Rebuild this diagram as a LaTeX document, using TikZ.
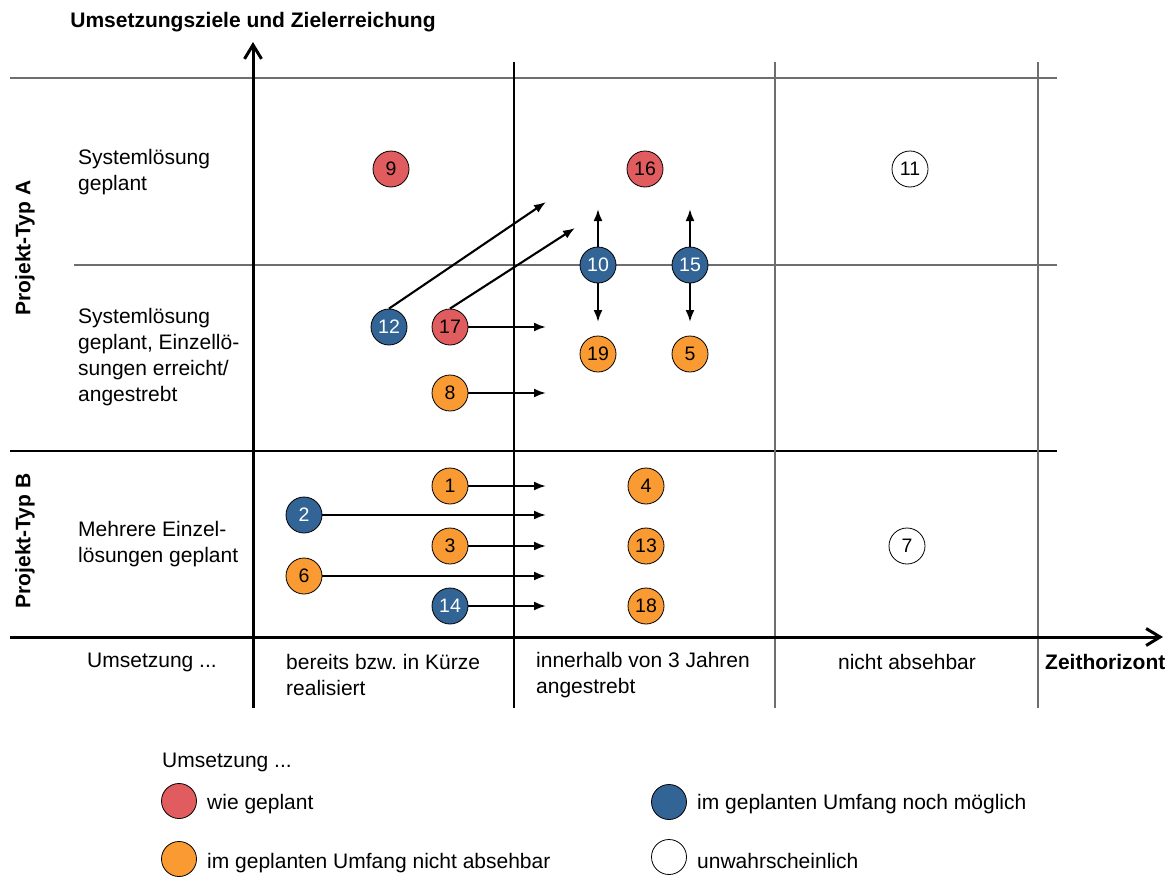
\documentclass[tikz,border=0pt]{standalone}
\usepackage{fontspec}
\setmainfont{Liberation Sans}
\usetikzlibrary{arrows.meta}
\definecolor{cred}{RGB}{224,92,94}
\definecolor{cblue}{RGB}{51,100,150}
\definecolor{corange}{RGB}{250,154,50}
\definecolor{cgrid}{RGB}{110,110,110}
\frenchspacing
\begin{document}
\begin{tikzpicture}[x=1pt,y=-1pt,
  font=\fontsize{21}{26}\selectfont,
  dot/.style={circle, draw=black, line width=0.8pt, minimum size=36pt, inner sep=0pt, font=\fontsize{19.5}{19.5}\selectfont},
  rdot/.style={dot, fill=cred},
  bdot/.style={dot, fill=cblue, text=white},
  odot/.style={dot, fill=corange},
  wdot/.style={dot, fill=white},
  ldot/.style={circle, draw=black, line width=0.8pt, minimum size=35pt, inner sep=0pt},
  conn/.style={line width=2.1pt, -{Latex[length=12pt,width=9pt]}},
  axisline/.style={line width=3pt, -{Straight Barb[length=14pt,width=17pt]}},
  gridline/.style={line width=1.2pt, draw=cgrid},
  gridblack/.style={line width=1.2pt, draw=black},
  lbl/.style={anchor=west, align=left, inner sep=0pt},
  bold/.style={font=\fontsize{21}{26}\selectfont\bfseries}
]
\useasboundingbox (0,0) rectangle (1176,878);

% grid lines
\coordinate (h1a) at (10,78);   \coordinate (h1b) at (1057,78);
\coordinate (h2a) at (74,265);  \coordinate (h2b) at (1057,265);
\coordinate (h3a) at (10,451);  \coordinate (h3b) at (1057,451);
\coordinate (v1a) at (514,62);  \coordinate (v1b) at (514,708);
\coordinate (v2a) at (775,62);  \coordinate (v2b) at (775,708);
\coordinate (v3a) at (1038,62); \coordinate (v3b) at (1038,708);
\draw[gridline] (h1a) -- (h1b);
\draw[gridline] (h2a) -- (h2b);
\draw[gridblack] (h3a) -- (h3b);
\draw[gridblack] (v1a) -- (v1b);
\draw[gridline] (v2a) -- (v2b);
\draw[gridline] (v3a) -- (v3b);

% axes
\coordinate (ya) at (253,708); \coordinate (yb) at (253,42);
\coordinate (xa) at (10,637);  \coordinate (xb) at (1163,637);
\draw[axisline] (ya) -- (yb);
\draw[axisline] (xa) -- (xb);

% axis titles
\node[bold] (ytitle) at (253,22) {Umsetzungsziele und Zielerreichung};
\node[bold, anchor=west, inner sep=0pt] (xtitle) at (1045,662) {Zeithorizont};
\node[bold, rotate=90] (typA) at (25,248) {Projekt-Typ A};
\node[bold, rotate=90] (typB) at (25,541) {Projekt-Typ B};

% row labels
\node[lbl] (r1) at (78,172) {Systemlösung\\geplant};
\node[lbl] (r2) at (78,357) {Systemlösung\\geplant, Einzellö-\\sungen erreicht/\\angestrebt};
\node[lbl] (r3) at (78,544) {Mehrere Einzel-\\lösungen geplant};

% column labels
\node[lbl] (k0) at (87,662) {Umsetzung ...};
\node[lbl] (k1) at (286,675) {bereits bzw. in Kürze\\realisiert};
\node[lbl] (k2) at (536,675) {innerhalb von 3 Jahren\\angestrebt};
\node (k3) at (907,662) {nicht absehbar};

% circles
\node[rdot] (c9)  at (391,169) {9};
\node[rdot] (c16) at (645,169) {16};
\node[wdot] (c11) at (910,169) {11};
\node[bdot] (c10) at (598,265) {10};
\node[bdot] (c15) at (690,265) {15};
\node[bdot] (c12) at (389,327) {12};
\node[rdot] (c17) at (450,327) {17};
\node[odot] (c19) at (598,354) {19};
\node[odot] (c5)  at (690,354) {5};
\node[odot] (c8)  at (450,393) {8};
\node[odot] (c1)  at (450,486) {1};
\node[odot] (c4)  at (646,486) {4};
\node[bdot] (c2)  at (304,515) {2};
\node[odot] (c3)  at (450,546) {3};
\node[odot] (c13) at (646,546) {13};
\node[odot] (c6)  at (304,576) {6};
\node[bdot] (c14) at (450,606) {14};
\node[odot] (c18) at (646,606) {18};
\node[wdot] (c7)  at (907,546) {7};

% arrow targets
\coordinate (t12) at (546,202);
\coordinate (t17d) at (575,228);
\coordinate (t17) at (546,327);
\coordinate (t8) at (546,393);
\coordinate (t10u) at (598,209);
\coordinate (t10d) at (598,322);
\coordinate (t15u) at (690,209);
\coordinate (t15d) at (690,322);
\coordinate (t1) at (546,486);
\coordinate (t2) at (546,515);
\coordinate (t3) at (546,546);
\coordinate (t6) at (546,576);
\coordinate (t14) at (546,606);

\draw[conn] (c12.north) -- (t12);
\draw[conn] (c17.north) -- (t17d);
\draw[conn] (c17) -- (t17);
\draw[conn] (c8) -- (t8);
\draw[conn] (c10) -- (t10u);
\draw[conn] (c10) -- (t10d);
\draw[conn] (c15) -- (t15u);
\draw[conn] (c15) -- (t15d);
\draw[conn] (c1) -- (t1);
\draw[conn] (c2) -- (t2);
\draw[conn] (c3) -- (t3);
\draw[conn] (c6) -- (t6);
\draw[conn] (c14) -- (t14);

% legend
\node[lbl] (lt) at (162,762) {Umsetzung ...};
\node[ldot, fill=cred] (l1) at (179,801) {};
\node[lbl] (l1t) at (207,804) {wie geplant};
\node[ldot, fill=cblue] (l2) at (669,802) {};
\node[lbl] (l2t) at (697,804) {im geplanten Umfang noch möglich};
\node[ldot, fill=corange] (l3) at (179,859) {};
\node[lbl] (l3t) at (207,863) {im geplanten Umfang nicht absehbar};
\node[ldot, fill=white] (l4) at (669,857) {};
\node[lbl] (l4t) at (697,861) {unwahrscheinlich};
\end{tikzpicture}
\end{document}
